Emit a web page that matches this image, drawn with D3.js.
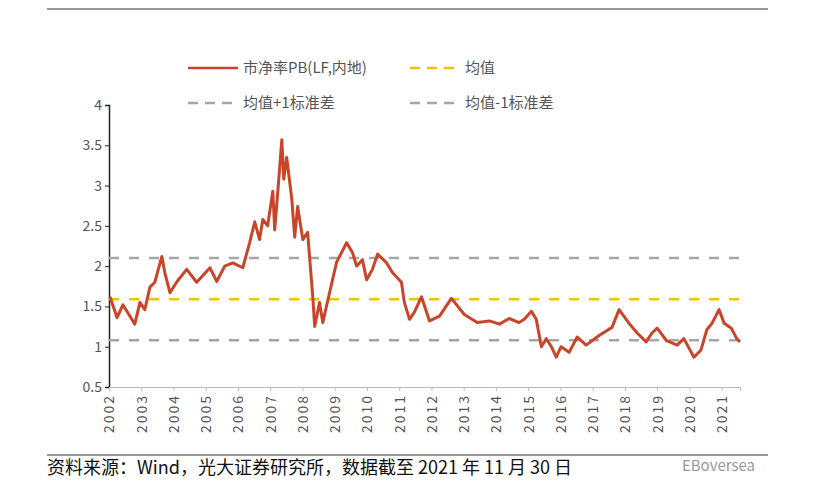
<!DOCTYPE html>
<html>
<head>
<meta charset="utf-8">
<script src="https://cdn.jsdelivr.net/npm/d3@7"></script>
<style>
    body { margin: 0; background: #fff; }
    text { font-family: "Noto Sans CJK SC", "Noto Sans", sans-serif; }
</style>
</head>
<body>
<svg id="chart" width="822" height="489"></svg>
<script>
// PB series, positions in years (label space)
const years = [2002.03, 2002.25, 2002.43, 2002.80, 2002.96, 2003.11, 2003.27, 2003.42, 2003.64, 2003.73,
    2003.89, 2004.11, 2004.41, 2004.72, 2005.13, 2005.34, 2005.59, 2005.84, 2006.15, 2006.36,
    2006.52, 2006.67, 2006.77, 2006.92, 2007.08, 2007.14, 2007.29, 2007.36, 2007.42, 2007.51,
    2007.67, 2007.76, 2007.85, 2008.01, 2008.16, 2008.32, 2008.38, 2008.53, 2008.63, 2008.84,
    2009.06, 2009.37, 2009.55, 2009.68, 2009.86, 2009.99, 2010.17, 2010.33, 2010.61, 2010.79,
    2011.07, 2011.16, 2011.32, 2011.47, 2011.69, 2011.94, 2012.25, 2012.62, 2013.02, 2013.42,
    2013.80, 2014.11, 2014.41, 2014.72, 2014.88, 2015.10, 2015.25, 2015.41, 2015.56, 2015.72,
    2015.87, 2016.02, 2016.27, 2016.52, 2016.80, 2017.20, 2017.60, 2017.70, 2017.82, 2018.13,
    2018.38, 2018.66, 2018.84, 2019.00, 2019.28, 2019.62, 2019.83, 2020.14, 2020.36, 2020.54,
    2020.70, 2020.92, 2021.08, 2021.30, 2021.47, 2021.57];
const pbValues = [1.62, 1.36, 1.52, 1.28, 1.55, 1.46, 1.74, 1.80, 2.12, 1.92,
    1.67, 1.81, 1.96, 1.80, 1.98, 1.81, 2.00, 2.04, 1.98, 2.29,
    2.55, 2.33, 2.58, 2.50, 2.93, 2.45, 3.20, 3.57, 3.08, 3.35,
    2.83, 2.36, 2.74, 2.33, 2.42, 1.62, 1.25, 1.55, 1.30, 1.67,
    2.05, 2.29, 2.17, 2.00, 2.08, 1.83, 1.96, 2.15, 2.04, 1.92,
    1.80, 1.55, 1.34, 1.43, 1.62, 1.32, 1.38, 1.60, 1.40, 1.30,
    1.32, 1.28, 1.35, 1.30, 1.34, 1.44, 1.34, 1.00, 1.10, 1.00,
    0.87, 1.00, 0.93, 1.12, 1.02, 1.14, 1.24, 1.34, 1.46, 1.29,
    1.17, 1.06, 1.17, 1.23, 1.08, 1.02, 1.10, 0.87, 0.96, 1.21,
    1.29, 1.46, 1.29, 1.23, 1.10, 1.06];
const meanValue = 1.59;
const upperValue = 2.10;
const lowerValue = 1.08;
const yTicks = [0.5, 1, 1.5, 2, 2.5, 3, 3.5, 4];
const yearTicks = d3.range(2002, 2022);
const legendLabels = ["市净率PB(LF,内地)", "均值", "均值+1标准差", "均值-1标准差"];
const sourceText = "资料来源：Wind，光大证券研究所，数据截至 2021 年 11 月 30 日";

const svg = d3.select("#chart");
const x = d3.scaleLinear().domain([2002, 2021.57]).range([109, 740]);
const y = d3.scaleLinear().domain([0.5, 4]).range([387, 105]);

// frame lines
svg.append("line").attr("x1", 47).attr("x2", 768).attr("y1", 9).attr("y2", 9)
    .attr("stroke", "#333").attr("stroke-width", 1);
svg.append("line").attr("x1", 47).attr("x2", 768).attr("y1", 455).attr("y2", 455)
    .attr("stroke", "#333").attr("stroke-width", 1);

// axes
const yAxis = svg.append("g").attr("transform", "translate(109,0)")
    .call(d3.axisLeft(y).tickValues(yTicks).tickSize(4).tickFormat(d3.format("")));
yAxis.select(".domain").attr("stroke", "#222").attr("stroke-width", 1.5);
yAxis.selectAll(".tick line").attr("stroke", "#222");
yAxis.selectAll("text").attr("fill", "#555").attr("font-size", 14);

const xAxis = svg.append("g").attr("transform", "translate(0,387)")
    .call(d3.axisBottom(x).tickValues(yearTicks).tickSize(4).tickFormat(d3.format("d")));
xAxis.select(".domain").attr("stroke", "#bbb");
xAxis.selectAll(".tick line").attr("stroke", "#bbb");
xAxis.selectAll("text").attr("fill", "#555").attr("font-size", 14)
    .attr("letter-spacing", "2px")
    .attr("transform", "rotate(-90)").attr("text-anchor", "end")
    .attr("x", -7).attr("y", 0).attr("dy", "0.35em");

// reference lines
const refs = [
    { v: upperValue, c: "#a6a6a6" },
    { v: lowerValue, c: "#a6a6a6" },
    { v: meanValue, c: "#f2c100" }
];
svg.selectAll("line.ref").data(refs).enter().append("line").attr("class", "ref")
    .attr("x1", x(2002)).attr("x2", x(2021.57))
    .attr("y1", (d) => y(d.v)).attr("y2", (d) => y(d.v))
    .attr("stroke", (d) => d.c).attr("stroke-width", 2.5).attr("stroke-dasharray", "10,10");

// PB line
const series = years.map((t, i) => [t, pbValues[i]]);
svg.append("path").datum(series)
    .attr("fill", "none").attr("stroke", "#c9452a").attr("stroke-width", 3)
    .attr("stroke-linejoin", "round")
    .attr("d", d3.line().x((d) => x(d[0])).y((d) => y(d[1])));

// legend
const legend = [
    { lx: 188, ly: 68, c: "#c9452a", dash: null, t: legendLabels[0] },
    { lx: 410, ly: 68, c: "#f2c100", dash: "10,7", t: legendLabels[1] },
    { lx: 188, ly: 103, c: "#a6a6a6", dash: "10,7", t: legendLabels[2] },
    { lx: 410, ly: 103, c: "#a6a6a6", dash: "10,7", t: legendLabels[3] }
];
const lg = svg.selectAll("g.legend").data(legend).enter().append("g").attr("class", "legend");
lg.append("line").attr("x1", (d) => d.lx).attr("x2", (d) => d.lx + 50)
    .attr("y1", (d) => d.ly).attr("y2", (d) => d.ly)
    .attr("stroke", (d) => d.c).attr("stroke-width", 2.5)
    .attr("stroke-dasharray", (d) => d.dash);
lg.append("text").attr("x", (d) => d.lx + 55).attr("y", (d) => d.ly).attr("dy", "0.35em")
    .attr("fill", "#555").attr("font-size", 15).text((d) => d.t);

// source and watermark
svg.append("text").attr("x", 47).attr("y", 474).attr("font-size", 18).attr("fill", "#111")
    .text(sourceText);
svg.append("text").attr("x", 755).attr("y", 471).attr("text-anchor", "end")
    .attr("font-size", 15).attr("fill", "#999").text("EBoversea");
</script>
</body>
</html>
